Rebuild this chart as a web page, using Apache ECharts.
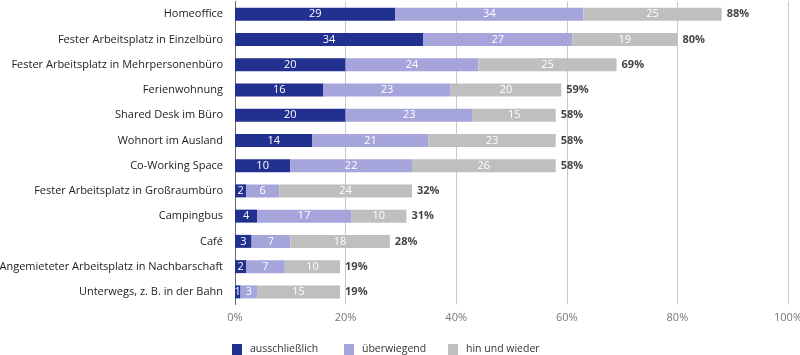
<!DOCTYPE html>
<html>
<head>
<meta charset="utf-8">
<script src="https://cdn.jsdelivr.net/npm/echarts@6/dist/echarts.min.js"></script>
<style>html,body{margin:0;padding:0;background:#fff}#c{width:800px;height:355px}</style>
</head>
<body>
<div id="c"></div>
<script>
const categories = [
  "Homeoffice",
  "Fester Arbeitsplatz in Einzelbüro",
  "Fester Arbeitsplatz in Mehrpersonenbüro",
  "Ferienwohnung",
  "Shared Desk im Büro",
  "Wohnort im Ausland",
  "Co-Working Space",
  "Fester Arbeitsplatz in Großraumbüro",
  "Campingbus",
  "Café",
  "Angemieteter Arbeitsplatz in Nachbarschaft",
  "Unterwegs, z. B. in der Bahn"
];
const ausschliesslich = [29, 34, 20, 16, 20, 14, 10, 2, 4, 3, 2, 1];
const ueberwiegend   = [34, 27, 24, 23, 23, 21, 22, 6, 17, 7, 7, 3];
const hinUndWieder   = [25, 19, 25, 20, 15, 23, 26, 24, 10, 18, 10, 15];
const totals         = [88, 80, 69, 59, 58, 58, 58, 32, 31, 28, 19, 19];
const seriesNames = ["ausschließlich", "überwiegend", "hin und wieder"];
const xTicks = [0, 20, 40, 60, 80, 100];

const FONT = "Open Sans";
const colors = ["#22308f", "#a5a5dc", "#bfbfbf"];
const legendLefts = [227, 339, 443];

function barSeries(name, data, color) {
  return {
    name: name, type: "bar", stack: "s", data: data, barWidth: 13,
    itemStyle: { color: color },
    label: { show: true, position: "inside", color: "#fff", fontSize: 11, fontFamily: FONT },
    emphasis: { disabled: true }
  };
}

const chart = echarts.init(document.getElementById("c"), null, { renderer: "canvas" });
chart.setOption({
  animation: false,
  textStyle: { fontFamily: FONT },
  grid: { left: 235, right: 12, top: 1.5, height: 303, containLabel: false, outerBoundsMode: "none" },
  legend: seriesNames.map((n, i) => ({
    data: [n], left: legendLefts[i], top: 339, itemWidth: 10, itemHeight: 11,
    icon: "rect", selectedMode: false,
    textStyle: { fontSize: 10.5, color: "#333", fontFamily: FONT, padding: [0, 0, 0, 3] }
  })),
  xAxis: {
    type: "value", min: xTicks[0], max: xTicks[xTicks.length - 1], interval: 20,
    axisLine: { show: false }, axisTick: { show: false },
    axisLabel: { formatter: "{value}%", color: "#777", fontSize: 11, margin: 8, fontFamily: FONT },
    splitLine: { show: true, lineStyle: { color: "#c8c8c8", width: 1 } }
  },
  yAxis: {
    type: "category", data: categories, inverse: true,
    axisTick: { show: false },
    axisLine: { show: true, lineStyle: { color: "#666", width: 1 } },
    axisLabel: { color: "#222", fontSize: 11, margin: 12, fontFamily: FONT }
  },
  series: [
    barSeries(seriesNames[0], ausschliesslich, colors[0]),
    barSeries(seriesNames[1], ueberwiegend, colors[1]),
    barSeries(seriesNames[2], hinUndWieder, colors[2]),
    {
      name: "total", type: "scatter", symbolSize: 0,
      data: totals.map((t, i) => [t, categories[i]]),
      label: {
        show: true, position: "right", distance: 5,
        formatter: p => p.value[0] + "%",
        color: "#111", fontSize: 11, fontWeight: "bold", fontFamily: FONT
      },
      emphasis: { disabled: true }, silent: true
    }
  ]
});
</script>
</body>
</html>
